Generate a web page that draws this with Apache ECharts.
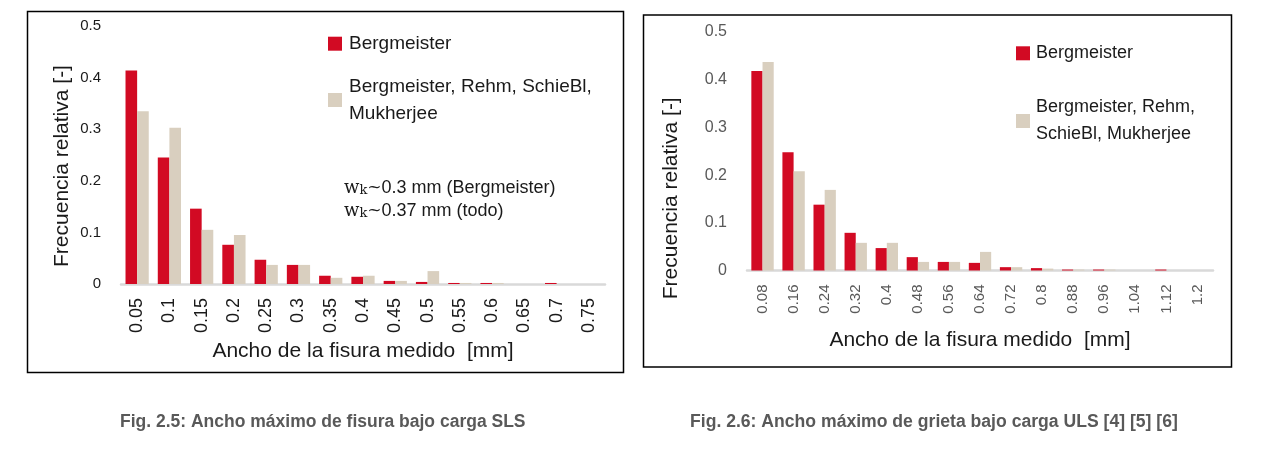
<!DOCTYPE html>
<html>
<head>
<meta charset="utf-8">
<script src="https://cdn.jsdelivr.net/npm/echarts@6/dist/echarts.min.js"></script>
<style>
  html, body { margin: 0; padding: 0; background: #fff; }
  #chart { width: 1261px; height: 465px; }
</style>
</head>
<body>
<div id="chart"></div>
<script>
// Fig. 2.5 (SLS)
const leftCategories = ['0.05', '0.1', '0.15', '0.2', '0.25', '0.3', '0.35', '0.4', '0.45', '0.5', '0.55', '0.6', '0.65', '0.7', '0.75']
const leftBerg = [0.414, 0.245, 0.146, 0.076, 0.047, 0.037, 0.016, 0.014, 0.006, 0.004, 0.002, 0.002, 0, 0.002, 0]
const leftAll = [0.335, 0.303, 0.105, 0.095, 0.037, 0.037, 0.012, 0.016, 0.006, 0.025, 0.002, 0.002, 0, 0, 0]

// Fig. 2.6 (ULS)
const rightCategories = ['0.08', '0.16', '0.24', '0.32', '0.4', '0.48', '0.56', '0.64', '0.72', '0.8', '0.88', '0.96', '1.04', '1.12', '1.2']
const rightBerg = [0.418, 0.248, 0.138, 0.079, 0.047, 0.028, 0.018, 0.016, 0.007, 0.005, 0.002, 0.002, 0, 0.002, 0]
const rightAll = [0.437, 0.208, 0.169, 0.058, 0.058, 0.018, 0.018, 0.039, 0.007, 0.004, 0.002, 0.002, 0, 0, 0]

const yTicks = [0, 0.1, 0.2, 0.3, 0.4, 0.5]

const SERIES_A = 'Bergmeister'
const SERIES_B = 'Bergmeister, Rehm, SchieBl, Mukherjee'
const RED = '#d20a23'
const BEIGE = '#d9cfbf'
const AXIS_GREY = '#d9d9d9'
const FONT = "'Liberation Sans', Arial, Helvetica, sans-serif"

const chart = echarts.init(document.getElementById('chart'))

const yAxisBase = (labelColor, labelSize, nameGap, namePad) => ({
  type: 'value',
  min: 0,
  max: 0.5,
  interval: 0.1,
  axisLine: { show: false },
  axisTick: { show: false },
  splitLine: { show: false },
  axisLabel: {
    color: labelColor,
    fontSize: labelSize,
    fontFamily: FONT,
    margin: 20,
    formatter: (v) => (yTicks.includes(+v.toFixed(1)) ? String(+v.toFixed(1)) : ''),
  },
  name: 'Frecuencia relativa [-]',
  nameLocation: 'middle',
  nameGap: nameGap,
  nameTextStyle: { color: '#1a1a1a', fontSize: 21, fontFamily: FONT, padding: namePad },
})

const xAxisBase = (cats, labelColor, labelSize, nameGap) => ({
  type: 'category',
  data: cats,
  axisLine: { lineStyle: { color: AXIS_GREY, width: 2.5 } },
  axisTick: { show: false },
  axisLabel: {
    color: labelColor,
    fontSize: labelSize,
    fontFamily: FONT,
    rotate: 90,
    margin: 14,
    interval: 0,
  },
  name: 'Ancho de la fisura medido  [mm]',
  nameLocation: 'middle',
  nameGap: nameGap,
  nameTextStyle: { color: '#1a1a1a', fontSize: 21, fontFamily: FONT },
})

const barSeries = (name, data, color, idx) => ({
  name: name,
  type: 'bar',
  data: data,
  xAxisIndex: idx,
  yAxisIndex: idx,
  barGap: '0%',
  barCategoryGap: '28%',
  itemStyle: { color: color },
  emphasis: { disabled: true },
})

const legendItem = (name, left, top, size, formatter, padding, lineHeight) => ({
  data: [name],
  left: left,
  top: top,
  padding: 0,
  icon: 'rect',
  itemWidth: 14,
  itemHeight: 14,
  selectedMode: false,
  formatter: formatter,
  textStyle: {
    color: '#1a1a1a',
    fontSize: size,
    fontFamily: FONT,
    padding: padding,
    lineHeight: lineHeight,
  },
})

const wkLine = (rest, y) => ({
  type: 'text',
  left: 344,
  top: y,
  style: {
    text: '{w|w}{k|k}{t|~}' + rest,
    rich: {
      w: { fontFamily: "'DejaVu Serif', 'Liberation Serif', serif", fontSize: 18, fill: '#1a1a1a' },
      k: { fontFamily: "'DejaVu Serif', 'Liberation Serif', serif", fontSize: 13, fill: '#1a1a1a', verticalAlign: 'bottom', padding: [6, 0, 0, 0] },
      t: { fontFamily: "'DejaVu Serif', 'Liberation Serif', serif", fontSize: 17, fill: '#1a1a1a' },
    },
    fontFamily: FONT,
    fontSize: 18,
    fill: '#1a1a1a',
  },
})

const option = {
  backgroundColor: '#ffffff',
  animation: false,
  grid: [
    { left: 121, top: 26, width: 484, height: 258, containLabel: false },
    { left: 747, top: 32, width: 466, height: 238.5, containLabel: false },
  ],
  xAxis: [
    { ...xAxisBase(leftCategories, '#1a1a1a', 18, 51), gridIndex: 0 },
    { ...xAxisBase(rightCategories, '#595959', 15, 59), gridIndex: 1 },
  ],
  yAxis: [
    { ...yAxisBase('#1a1a1a', 15, 48, [0, 0, 0, -22]), gridIndex: 0 },
    { ...yAxisBase('#595959', 16, 65, [0, 0, 0, -94]), gridIndex: 1 },
  ],
  legend: [
    legendItem(SERIES_A, 328, 22.7, 19, (n) => n, [0, 0, 20, 2], 22),
    legendItem(SERIES_B, 328, 69.5, 19, () => 'Bergmeister, Rehm, SchieBl,\nMukherjee', [7, 0, 0, 2], 27),
    legendItem(SERIES_A, 1016, 31.3, 18, (n) => n, [0, 0, 22, 1], 22),
    legendItem(SERIES_B, 1016, 91.5, 18, () => 'Bergmeister, Rehm,\nSchieBl, Mukherjee', [5, 0, 0, 1], 27),
  ],
  series: [
    barSeries(SERIES_A, leftBerg, RED, 0),
    barSeries(SERIES_B, leftAll, BEIGE, 0),
    barSeries(SERIES_A, rightBerg, RED, 1),
    barSeries(SERIES_B, rightAll, BEIGE, 1),
  ],
  graphic: [
    {
      type: 'rect',
      shape: { x: 27.5, y: 11.5, width: 596, height: 361 },
      style: { fill: 'none', stroke: '#000', lineWidth: 1.5 },
      z: 100,
    },
    {
      type: 'rect',
      shape: { x: 643.5, y: 15, width: 588, height: 352 },
      style: { fill: 'none', stroke: '#000', lineWidth: 1.5 },
      z: 100,
    },
    wkLine('0.3 mm (Bergmeister)', 179),
    wkLine('0.37 mm (todo)', 202),
    {
      type: 'text',
      left: 120,
      top: 413,
      style: {
        text: 'Fig. 2.5: Ancho máximo de fisura bajo carga SLS',
        fontFamily: FONT,
        fontWeight: 'bold',
        fontSize: 17.5,
        fill: '#595959',
      },
    },
    {
      type: 'text',
      left: 690,
      top: 413,
      style: {
        text: 'Fig. 2.6: Ancho máximo de grieta bajo carga ULS [4] [5] [6]',
        fontFamily: FONT,
        fontWeight: 'bold',
        fontSize: 17.6,
        fill: '#595959',
      },
    },
  ],
}

chart.setOption(option)
</script>
</body>
</html>
